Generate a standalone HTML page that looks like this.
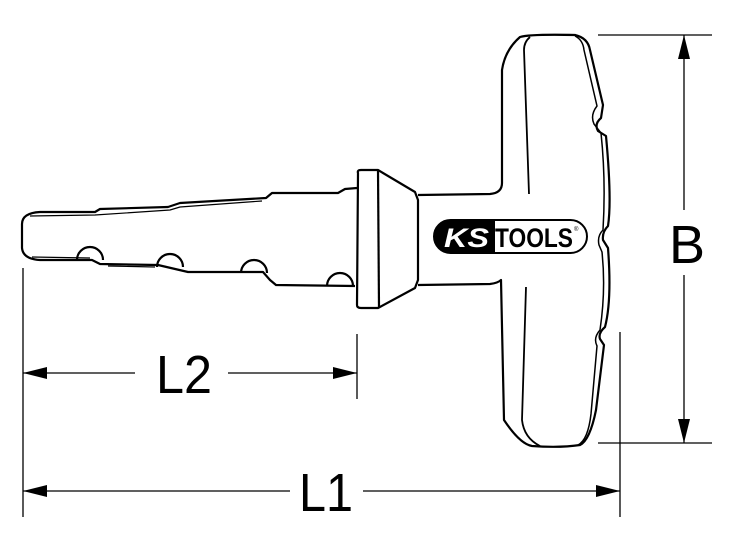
<!DOCTYPE html>
<html><head><style>body{margin:0;background:#fff}svg{display:block}</style></head><body>
<svg width="730" height="546" viewBox="0 0 730 546" xmlns="http://www.w3.org/2000/svg">
<defs>
<marker id="a" markerWidth="24" markerHeight="12" refX="24" refY="6" orient="auto-start-reverse" markerUnits="userSpaceOnUse"><path d="M0,0 L24,6 L0,12z" fill="#000"/></marker>
</defs>
<g fill="none" stroke="#000" stroke-width="2.2" stroke-linejoin="round">
<path d="M357,188 L345,189 L338,193 L272,193 L266,198 L180,203 L168,207 L100,209 L95,212 L40,212 Q22,213 22,224 L22,248 Q23,259 40,260 L92,260 L100,264 L158,265 L188,272 L263,272 L270,280 L276,285 L355,286"/>
<path d="M30,216 L95,215 L170,210 L180,207 L262,201" stroke-width="1.2"/>
<path d="M32,257 L90,258 M108,266 L155,267" stroke-width="1.2"/>
<path d="M77,260 A13,13 0 0 1 103,260"/>
<path d="M157,267 A13,13 0 0 1 183,267"/>
<path d="M241,273 A13,13 0 0 1 267,273"/>
<path d="M327,286 A13,13 0 0 1 353,286"/>
<path d="M358,173 Q357,170 361,170 L378,170 L415,192 L418,200 L418,280 L415,288 L378,308 L361,308 Q357,308 357,305 Z"/>
<line x1="378" y1="170" x2="379" y2="308"/>
<path d="M418,195 L490,194 Q502,193 502,183 L502,70 Q505,50 520,37 Q530,34 575,35 Q588,38 590,50 L603,105 L601,118 Q594,124 598,131 L606,136 Q612,200 608,226 Q602,232 603,240 L608,248 Q612,300 605,327 Q598,333 600,339 L604,345 L596,410 Q590,440 580,445 Q560,448 532,446 Q520,444 504,420 L501,280 Q498,283 490,284 L418,285"/>
<path d="M575,36 Q583,40 584,50 L597,106 Q590,115 594,124 L601,133 Q606,180 603,230 Q597,236 599,245 L602,252 Q606,290 600,330 Q593,338 597,346 L591,414 Q588,440 578,445" stroke-width="1.5"/>
<path d="M530,37 Q524,42 524,50 L529,194 M526,287 L522,420 Q524,438 540,446" stroke-width="1.8"/>
</g>
<rect x="434" y="220" width="153" height="33" rx="16.5" fill="#fff" stroke="#000" stroke-width="2"/>
<path d="M450,220 L495,220 L495,253 L450,253 A16.5,16.5 0 0 1 450,220z" fill="#000"/>
<text x="444" y="247" font-family="Liberation Sans,sans-serif" font-size="27" font-style="italic" font-weight="bold" fill="#fff" textLength="45" lengthAdjust="spacingAndGlyphs">KS</text>
<text x="495" y="247" font-family="Liberation Sans,sans-serif" font-size="27" font-weight="bold" fill="#000" textLength="78" lengthAdjust="spacingAndGlyphs">TOOLS</text>
<text x="574" y="231" font-family="Liberation Sans,sans-serif" font-size="6" fill="#000">®</text>
<g stroke="#000" stroke-width="1.3" fill="none">
<line x1="23" y1="268" x2="23" y2="517"/>
<line x1="357" y1="334" x2="357" y2="399"/>
<line x1="620" y1="332" x2="620" y2="517"/>
<line x1="598" y1="35" x2="712" y2="35"/>
<line x1="598" y1="443" x2="712" y2="443"/>
<line x1="23" y1="373" x2="135" y2="373" marker-start="url(#a)"/>
<line x1="228" y1="373" x2="357" y2="373" marker-end="url(#a)"/>
<line x1="23" y1="491" x2="290" y2="491" marker-start="url(#a)"/>
<line x1="363" y1="491" x2="620" y2="491" marker-end="url(#a)"/>
<line x1="684" y1="35" x2="684" y2="210" marker-start="url(#a)"/>
<line x1="684" y1="275" x2="684" y2="443" marker-end="url(#a)"/>
</g>
<g font-family="Liberation Sans,sans-serif" font-size="54" fill="#000" text-anchor="middle">
<text x="184" y="393" textLength="56" lengthAdjust="spacingAndGlyphs">L2</text>
<text x="326" y="511" textLength="54" lengthAdjust="spacingAndGlyphs">L1</text>
<text x="687" y="263">B</text>
</g>
</svg>
</body></html>
